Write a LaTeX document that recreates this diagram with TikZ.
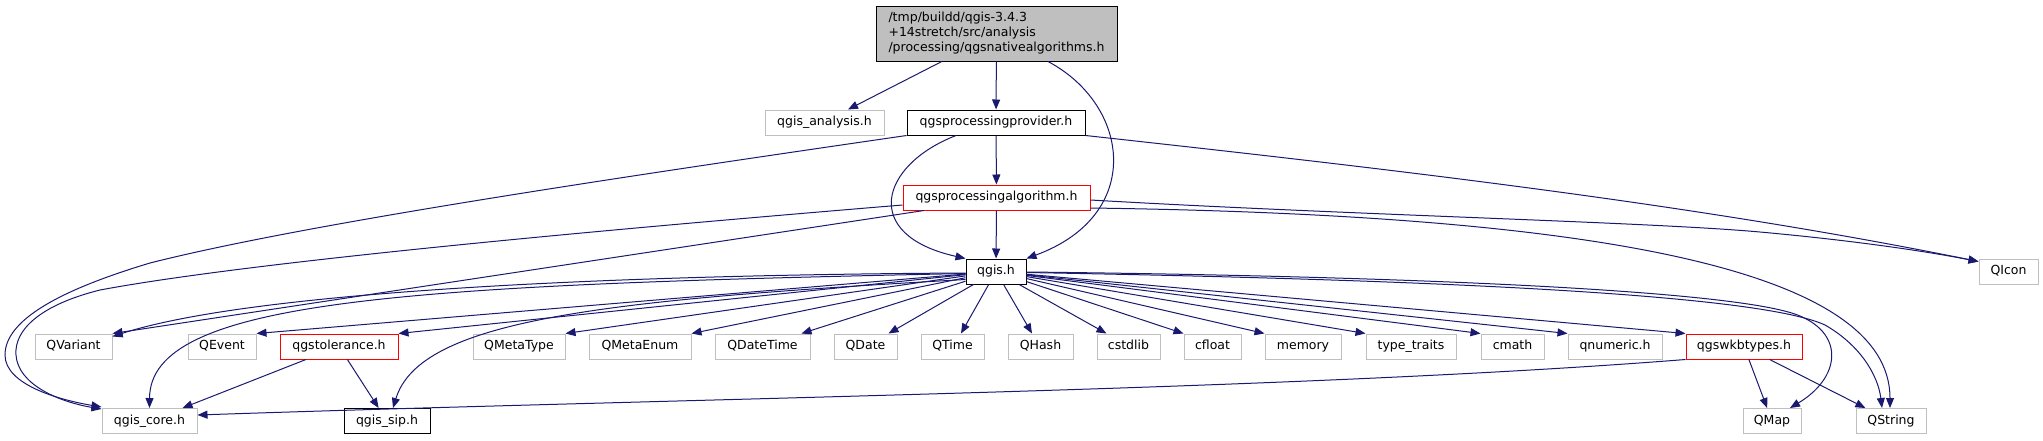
\documentclass[tikz,border=0pt]{standalone}
\usepackage{fontspec}
\setmainfont{DejaVu Sans}
\usetikzlibrary{arrows.meta,calc}
\definecolor{edgec}{HTML}{191970}
\definecolor{nodegray}{HTML}{BFBFBF}
\definecolor{rootfill}{HTML}{BFBFBF}
\definecolor{nodered}{HTML}{FF0000}
\begin{document}
\begin{tikzpicture}[x=1pt,y=-1pt,
  nd/.style={draw=nodegray, fill=white, line width=1pt, minimum height=25pt, inner sep=0pt,
    text height=9.5pt, text depth=3pt, font=\fontsize{12.5}{15}\selectfont},
  ndblack/.style={nd, draw=black},
  ndred/.style={nd, draw=nodered},
  rootbox/.style={draw=black, fill=rootfill, line width=1pt, minimum height=55pt, inner sep=0pt,
    align=left, font=\fontsize{12.5}{15}\selectfont},
  edge/.style={draw=edgec, line width=1pt, -{Triangle[length=10pt,width=8pt]}}]
\useasboundingbox (0,0) rectangle (2043,440);

% nodes
\node[rootbox, minimum width=241pt] (root) at (996.5,33.5) {/tmp/buildd/qgis-3.4.3\\+14stretch/src/analysis\\/processing/qgsnativealgorithms.h};
\node[nd, minimum width=119pt] (ana) at (824.5,122.5) {qgis\_analysis.h};
\node[ndblack, minimum width=178pt] (prov) at (996,122.5) {qgsprocessingprovider.h};
\node[ndred, minimum width=187pt] (alg) at (996.5,197.5) {qgsprocessingalgorithm.h};
\node[ndblack, minimum width=60pt] (qgis) at (996,271.5) {qgis.h};
\node[nd, minimum width=59pt] (QIcon) at (2008.5,271.5) {QIcon};

\node[nd, minimum width=77pt] (QVariant) at (73.5,346.5) {QVariant};
\node[nd, minimum width=68pt] (QEvent) at (222,346.5) {QEvent};
\node[ndred, minimum width=118pt] (tol) at (339,346.5) {qgstolerance.h};
\node[nd, minimum width=92pt] (MT) at (519,346.5) {QMetaType};
\node[nd, minimum width=102pt] (ME) at (640,346.5) {QMetaEnum};
\node[nd, minimum width=95pt] (DT) at (762.5,346.5) {QDateTime};
\node[nd, minimum width=63pt] (QDate) at (865.5,346.5) {QDate};
\node[nd, minimum width=63pt] (QTime) at (952.5,346.5) {QTime};
\node[nd, minimum width=65pt] (QHash) at (1040.5,346.5) {QHash};
\node[nd, minimum width=63pt] (cstdlib) at (1128.5,346.5) {cstdlib};
\node[nd, minimum width=57pt] (cfloat) at (1212.5,346.5) {cfloat};
\node[nd, minimum width=76pt] (memory) at (1303,346.5) {memory};
\node[nd, minimum width=90pt] (tt) at (1411,346.5) {type\_traits};
\node[nd, minimum width=63pt] (cmath) at (1512.5,346.5) {cmath};
\node[nd, minimum width=94pt] (qnum) at (1615,346.5) {qnumeric.h};
\node[ndred, minimum width=116pt] (wkb) at (1744,346.5) {qgswkbtypes.h};

\node[nd, minimum width=95pt] (core) at (149.5,421) {qgis\_core.h};
\node[ndblack, minimum width=86pt] (sip) at (387,421) {qgis\_sip.h};
\node[nd, minimum width=58pt] (QMap) at (1772,421) {QMap};
\node[nd, minimum width=70pt] (QString) at (1891,421) {QString};

% root edges
\draw[edge] (root) -- ([xshift=23.5pt]ana.north);
\draw[edge] (root) -- (prov);
\draw[edge] ([xshift=51.5pt]root.south) .. controls (1130,105) and (1145,215) .. (qgis.north east);

% provider edges
\draw[edge] (prov) -- (alg);
\draw[edge] ([xshift=-40pt]prov.south) .. controls (880,165) and (860,235) .. (qgis.north west);
\draw[edge] (prov.south west) .. controls (600,180) and (300,225) .. (150,263)
  .. controls (60,290) and (5,320) .. (5,355) .. controls (5,385) and (60,400) .. ([yshift=1pt]core.north west);
\draw[edge] (prov.south east) .. controls (1400,170) and (1700,205) .. ([yshift=-3pt]QIcon.north west);

% algorithm edges
\draw[edge] (alg) -- (qgis);
\draw[edge] ([yshift=-7.5pt]alg.west) .. controls (600,230) and (250,262) .. (100,290)
  .. controls (40,305) and (14,330) .. (16,355) .. controls (18,385) and (60,402) .. ([yshift=-1pt]core.north west);
\draw[edge] ([xshift=-72.5pt]alg.south) -- (QVariant.north east);
\draw[edge] ([yshift=-2.5pt]alg.east) .. controls (1350,215) and (1650,222) .. (1760,232)
  .. controls (1870,242) and (1940,254) .. ([yshift=-3pt]QIcon.north west);
\draw[edge] ([yshift=-10.5pt]alg.east) .. controls (1600,215) and (1890,270) .. ([xshift=-1pt]QString.north);

% qgis.h edges, left side
\draw[edge] ([yshift=-1.5pt]qgis.west) .. controls (600,275) and (250,292) .. ([yshift=-3pt]QVariant.north east);
\draw[edge] ([yshift=-2pt]qgis.west) .. controls (400,285) and (150,300) .. (core.north);
\draw[edge] ([yshift=-8pt]qgis.west) .. controls (600,300) and (420,320) .. ([xshift=6pt]sip.north);
\draw[edge] (qgis) -- (QEvent.north east);
\draw[edge] (qgis) -- (tol.north east);
\draw[edge] (qgis) -- (MT.north east);
\draw[edge] (qgis) -- (ME.north east);
\draw[edge] (qgis) -- ([xshift=-9pt]DT.north east);
\draw[edge] (qgis) -- ([xshift=-9pt]QDate.north east);
\draw[edge] (qgis) -- ([xshift=8.5pt]QTime.north);

% qgis.h edges, right side
\draw[edge] (qgis) -- ([xshift=-8.5pt]QHash.north);
\draw[edge] (qgis) -- ([xshift=10pt]cstdlib.north west);
\draw[edge] (qgis) -- (cfloat.north west);
\draw[edge] (qgis) -- (memory.north west);
\draw[edge] (qgis) -- (tt.north west);
\draw[edge] (qgis) -- (cmath.north west);
\draw[edge] (qgis) -- (qnum.north west);
\draw[edge] (qgis) -- (wkb.north west);
\draw[edge] ([yshift=-0.5pt]qgis.east) .. controls (1400,276) and (1740,290) .. (1800,316)
  .. controls (1845,335) and (1840,378) .. ([xshift=18pt]QMap.north);
\draw[edge] ([yshift=-1pt]qgis.east) .. controls (1450,280) and (1760,295) .. (1825,325)
  .. controls (1860,345) and (1878,375) .. ([xshift=-9pt]QString.north);

% lower edges
\draw[edge] (tol) -- (core);
\draw[edge] (tol) -- (sip);
\draw[edge] (wkb) -- (QMap);
\draw[edge] (wkb) -- (QString);
\draw[edge] (wkb.south west) .. controls (1300,390) and (700,398) .. ([yshift=6pt]core.east);
\end{tikzpicture}
\end{document}
